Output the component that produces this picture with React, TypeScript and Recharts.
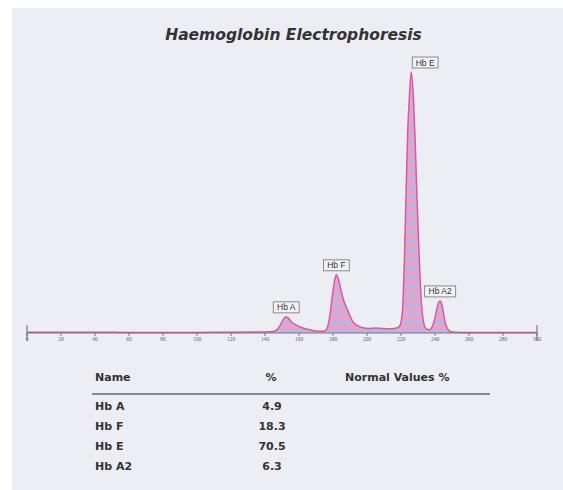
import React from "react";
import { AreaChart, Area, XAxis, YAxis, ReferenceDot, ReferenceLine } from "recharts";

const mobility = [0, 20, 40, 60, 80, 100, 120, 140, 145, 147, 149, 151, 152.5, 154, 156, 158.5, 161, 164.5, 168, 172, 175, 176.5, 178, 179, 180.2, 181.2, 182, 183, 184.5, 186, 188, 190, 192, 194.5, 197.5, 201, 205, 209, 214, 218, 219.5, 220.8, 222, 223, 224, 224.9, 226, 227.3, 228.3, 229.4, 230.4, 231.3, 232.3, 233.3, 234.5, 236.5, 238, 239.5, 241, 242.2, 243, 244, 245, 246, 247.5, 249, 252, 260, 280, 300];
const signal = [0.3, 0.3, 0.3, 0.2, 0.2, 0.2, 0.3, 0.4, 0.6, 1.2, 3, 5.5, 6.2, 5.5, 4, 3, 2.2, 1.5, 1, 0.7, 0.8, 1.8, 6, 11, 17, 21, 22.3, 21, 17, 13, 9.7, 6.5, 4, 2.8, 2, 1.7, 1.9, 1.7, 1.6, 2, 3, 8, 28, 54, 78, 90, 100, 90, 74, 52, 34, 20, 9, 4, 1.8, 1.2, 2, 4.5, 9, 11.8, 12.3, 11, 7.5, 4, 1.5, 0.6, 0.3, 0.2, 0.2, 0.2];

const xTicks = [0, 20, 40, 60, 80, 100, 120, 140, 160, 180, 200, 220, 240, 260, 280, 300];

const peakNames = ["Hb A", "Hb F", "Hb E", "Hb A2"];
const peakX = [152.5, 182, 226, 243];
const peakY = [6.2, 22.3, 100, 12.3];
const peakShift = [0, 0, 14, 0];

const tableHeader = ["Name", "%", "Normal Values %"];
const tableNames = ["Hb A", "Hb F", "Hb E", "Hb A2"];
const tablePercent = ["4.9", "18.3", "70.5", "6.3"];

const data = mobility.map((x, i) => ({ x, y: signal[i] }));

const PeakLabel = (props: any) => {
  const { viewBox, text, shift } = props;
  const cx = viewBox.x + (shift || 0);
  const cy = viewBox.y;
  const w = text.length * 5.2 + 5;
  const h = 11;
  return (
    <g>
      <rect x={cx - w / 2} y={cy - h - 4} width={w} height={h} fill="#f2f2f4" stroke="#8a8a8a" strokeWidth={1} />
      <text x={cx} y={cy - 6.5} textAnchor="middle" fontSize={8.5} fontFamily="Liberation Sans, Arial, sans-serif" fill="#333">{text}</text>
    </g>
  );
};

export default function App() {
  const font = "'DejaVu Sans', Verdana, sans-serif";
  const cell: React.CSSProperties = { position: "absolute", whiteSpace: "nowrap" };
  return (
    <div style={{ position: "absolute", left: 0, top: 0, width: 563, height: 490, background: "#ffffff", overflow: "hidden" }}>
      <div style={{ position: "absolute", left: 12, top: 8, width: 551, height: 482, background: "#eceef4" }} />
      <div style={{ position: "absolute", left: 12, top: 26, width: 563, textAlign: "center", fontFamily: font, fontWeight: "bold", fontStyle: "italic", fontSize: 15.5, color: "#333", whiteSpace: "nowrap" }}>
        Haemoglobin Electrophoresis
      </div>
      <div style={{ position: "absolute", left: 0, top: 0 }}>
        <AreaChart width={563} height={360} data={data} margin={{ top: 72, left: 27, right: 26, bottom: 0 }}>
          <defs>
            <pattern id="stripes" patternUnits="userSpaceOnUse" width="4" height="9">
              <rect x="0" y="0" width="4" height="9" fill="#ec98c2" />
              <rect x="0" y="5" width="4" height="4" fill="#b0b0e0" />
            </pattern>
          </defs>
          <XAxis dataKey="x" type="number" domain={[0, 300]} ticks={xTicks} height={27}
            tick={{ fontSize: 5.5, fill: "#666" }} tickSize={3} tickMargin={1}
            axisLine={{ stroke: "#777", strokeWidth: 1 }} tickLine={{ stroke: "#777" }} />
          <YAxis hide domain={[0, 100]} />
          <ReferenceLine segment={[{ x: 0, y: -3 }, { x: 0, y: 3 }]} stroke="#666" ifOverflow="visible" />
          <ReferenceLine segment={[{ x: 300, y: -3 }, { x: 300, y: 3 }]} stroke="#666" ifOverflow="visible" />
          <Area type="monotone" dataKey="y" stroke="#e2559c" strokeWidth={1.5} fill="url(#stripes)" fillOpacity={0.9} isAnimationActive={false} dot={false} />
          {peakNames.map((n, i) => (
            <ReferenceDot key={n} x={peakX[i]} y={peakY[i]} r={0} ifOverflow="visible"
              label={<PeakLabel text={n} shift={peakShift[i]} />} />
          ))}
        </AreaChart>
      </div>
      <div style={{ position: "absolute", left: 0, top: 0, fontFamily: font, fontWeight: "bold", fontSize: 11, color: "#333" }}>
        <div style={{ ...cell, left: 95, top: 371 }}>{tableHeader[0]}</div>
        <div style={{ ...cell, left: 250, width: 42, textAlign: "center", top: 371 }}>{tableHeader[1]}</div>
        <div style={{ ...cell, left: 345, top: 371 }}>{tableHeader[2]}</div>
        <div style={{ position: "absolute", left: 92, top: 393, width: 398, height: 2, background: "#8a8a8a" }} />
        {tableNames.map((n, i) => (
          <React.Fragment key={n}>
            <div style={{ ...cell, left: 95, top: 400 + i * 20 }}>{n}</div>
            <div style={{ ...cell, left: 250, width: 44, textAlign: "center", top: 400 + i * 20 }}>{tablePercent[i]}</div>
          </React.Fragment>
        ))}
      </div>
    </div>
  );
}
